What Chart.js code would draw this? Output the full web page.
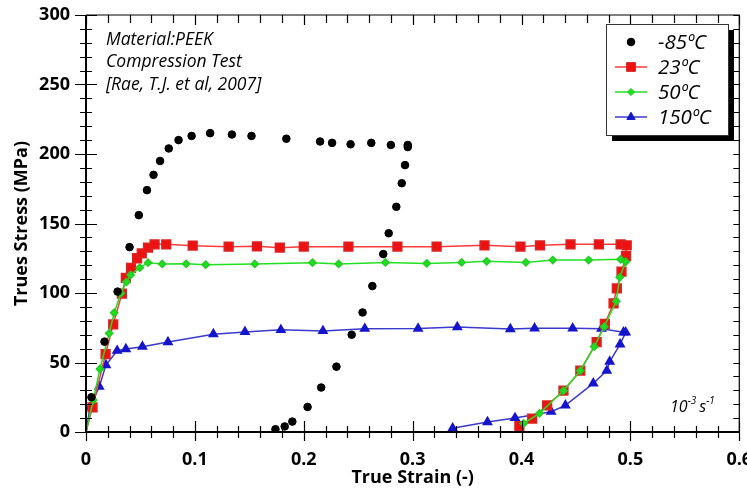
<!DOCTYPE html>
<html>
<head>
<meta charset="utf-8">
<script src="https://cdn.jsdelivr.net/npm/chart.js@4.4.0/dist/chart.umd.min.js"></script>
<style>
  html, body { margin: 0; padding: 0; background: #fff; }
  #wrap { width: 747px; height: 493px; position: relative; }
</style>
</head>
<body>
<div id="wrap"><canvas id="peekChart"></canvas></div>
<script>
// --------------------
// Data (strain -, stress MPa)
// --------------------
const seriesLabels = ["-85ºC", "23ºC", "50ºC", "150ºC"];

const strainM85 = [0.005, 0.017, 0.029, 0.040, 0.0485, 0.056, 0.062, 0.068, 0.076, 0.085, 0.097, 0.114, 0.134, 0.152, 0.184, 0.215, 0.226, 0.243, 0.262, 0.280, 0.2955, 0.2955, 0.293, 0.290, 0.285, 0.278, 0.273, 0.263, 0.254, 0.244, 0.230, 0.216, 0.2035, 0.1895, 0.1825, 0.174];
const stressM85 = [25, 65, 101, 133, 156, 174, 185, 195, 204, 210, 213, 215, 214, 213, 211, 209, 208, 207, 208, 206.5, 206.5, 205, 192, 179, 162, 143, 128, 105, 86, 70, 47, 32, 18, 7.5, 4, 2];

const strain23 = [0, 0.006, 0.018, 0.025, 0.033, 0.0366, 0.0414, 0.0469, 0.0512, 0.057, 0.063, 0.0737, 0.098, 0.131, 0.157, 0.178, 0.200, 0.241, 0.286, 0.322, 0.366, 0.399, 0.417, 0.445, 0.471, 0.491, 0.4966, 0.496, 0.4918, 0.4875, 0.4845, 0.4765, 0.469, 0.454, 0.4385, 0.4235, 0.4098, 0.398];
const stress23 = [0, 17.7, 56, 77.5, 99.5, 110.8, 118, 125, 128.5, 132.6, 135, 135, 134, 133.3, 133.6, 132.6, 133.3, 133.3, 133.3, 133.3, 134.3, 133.3, 134.3, 135, 135, 135, 134.3, 126.6, 115.3, 103.4, 92.6, 77.7, 64.7, 44.1, 29.7, 19.2, 9.6, 4.3];

const strain50 = [0, 0.0067, 0.0128, 0.0213, 0.0259, 0.032, 0.0372, 0.041, 0.0494, 0.057, 0.070, 0.092, 0.110, 0.155, 0.208, 0.232, 0.275, 0.313, 0.345, 0.368, 0.404, 0.4287, 0.4616, 0.491, 0.4957, 0.4902, 0.487, 0.476, 0.4668, 0.454, 0.4385, 0.4165, 0.402];
const stress50 = [0, 23, 45.3, 71, 85.8, 99.8, 108, 113, 118.2, 121.8, 120.9, 121, 120.4, 120.9, 121.8, 120.9, 122, 121.3, 122, 122.8, 122, 123.7, 123.7, 124.2, 122.5, 111.3, 94, 75.8, 61.4, 44.1, 29.7, 13.4, 6.2];

const strain150 = [0, 0.0037, 0.0122, 0.0183, 0.0286, 0.0366, 0.0518, 0.0753, 0.117, 0.146, 0.179, 0.2176, 0.256, 0.305, 0.341, 0.3897, 0.412, 0.447, 0.4735, 0.4936, 0.4957, 0.4905, 0.481, 0.4783, 0.4659, 0.4403, 0.4272, 0.394, 0.3687, 0.3367];
const stress150 = [0, 17.7, 32.6, 48.2, 58.5, 59.7, 61.4, 64.7, 70.4, 72, 73.5, 72.7, 74.3, 74.4, 75.5, 74.1, 74.6, 74.6, 74.3, 71.7, 71.7, 63.1, 50.6, 44.1, 35, 19.2, 14.6, 10.1, 7.2, 2.7];

const xTickValues = [0, 0.1, 0.2, 0.3, 0.4, 0.5, 0.6];
const yTickValues = [0, 50, 100, 150, 200, 250, 300];

const noteLines = ["Material:PEEK", "Compression Test", "[Rae, T.J. et al, 2007]"];

function toPoints(xs, ys) {
    return xs.map((x, i) => ({ x, y: ys[i] }));
}

// hide marker on the origin point of the line series
const hideOrigin = r => ctx => (ctx.dataIndex === 0 ? 0 : r);

// --------------------
// Decorations: frame, crossing ticks, notes, legend
// --------------------
const decorPlugin = {
    id: "decor",
    afterDraw(chart) {
        const ctx = chart.ctx;
        const { left, right, top, bottom } = chart.chartArea;
        const xs = chart.scales.x;
        const ys = chart.scales.y;
        ctx.save();
        ctx.strokeStyle = "#000";

        // frame
        ctx.lineWidth = 1.2;
        ctx.beginPath();
        ctx.moveTo(left, top); ctx.lineTo(right, top); ctx.lineTo(right, bottom);
        ctx.stroke();
        ctx.lineWidth = 2;
        ctx.beginPath();
        ctx.moveTo(left, top); ctx.lineTo(left, bottom); ctx.lineTo(right, bottom);
        ctx.stroke();

        // x ticks every 0.02
        ctx.lineWidth = 1.2;
        for (let i = 0; i <= 30; i++) {
            const px = Math.round(xs.getPixelForValue(i * 0.02)) + 0.5;
            const major = i % 5 === 0;
            ctx.beginPath();
            ctx.moveTo(px, bottom - (major ? 11 : 6));
            ctx.lineTo(px, bottom + (major ? 9 : 6));
            ctx.moveTo(px, top);
            ctx.lineTo(px, top + (major ? 10 : 8));
            ctx.stroke();
        }
        // y ticks every 10
        for (let i = 0; i <= 30; i++) {
            const py = Math.round(ys.getPixelForValue(i * 10)) + 0.5;
            const major = i % 5 === 0;
            ctx.beginPath();
            ctx.moveTo(left - (major ? 11 : 6), py);
            ctx.lineTo(left + (major ? 11 : 6), py);
            ctx.moveTo(right, py);
            ctx.lineTo(right - 6, py);
            ctx.stroke();
        }

        // notes
        ctx.fillStyle = "#000";
        ctx.font = "italic 17.5px 'Open Sans'";
        ctx.textBaseline = "middle";
        ctx.textAlign = "left";
        noteLines.forEach((t, i) => ctx.fillText(t, left + 20, top + 25 + i * 22.5));

        // strain-rate label 10^-3 s^-1
        let tx = 670;
        const ty = 407;
        ctx.font = "italic 16px 'Open Sans'";
        ctx.fillText("10", tx, ty);
        tx += ctx.measureText("10").width;
        ctx.font = "italic 10px 'Open Sans'";
        ctx.fillText("-3", tx, ty - 6);
        tx += ctx.measureText("-3").width + 3;
        ctx.font = "italic 16px 'Open Sans'";
        ctx.fillText("s", tx, ty);
        tx += ctx.measureText("s").width;
        ctx.font = "italic 10px 'Open Sans'";
        ctx.fillText("-1", tx, ty - 6);

        // legend box with shadow
        const lx = 606, ly = 24, lw = 122, lh = 111;
        ctx.fillStyle = "#000";
        ctx.fillRect(lx + 6, ly + 6, lw, lh);
        ctx.fillStyle = "#fff";
        ctx.fillRect(lx, ly, lw, lh);
        ctx.lineWidth = 1;
        ctx.strokeStyle = "#333";
        ctx.strokeRect(lx + 0.5, ly + 0.5, lw, lh);

        chart.data.datasets.forEach((ds, i) => {
            const cy = ly + 18 + i * 25;
            const cx = lx + 25;
            if (ds.showLine !== false) {
                ctx.strokeStyle = ds.borderColor;
                ctx.lineWidth = ds.borderWidth;
                ctx.beginPath();
                ctx.moveTo(cx - 16, cy);
                ctx.lineTo(cx + 16, cy);
                ctx.stroke();
            }
            ctx.fillStyle = ds.pointBackgroundColor;
            ctx.strokeStyle = ds.pointBorderColor;
            ctx.lineWidth = 1;
            Chart.helpers.drawPoint(ctx, {
                pointStyle: ds.pointStyle,
                radius: ds.legendRadius,
                rotation: 0,
                borderWidth: 1
            }, cx, cy);
            ctx.fillStyle = "#000";
            ctx.font = "italic 20.5px 'Open Sans'";
            ctx.textAlign = "left";
            ctx.fillText(ds.label, lx + 52, cy + 1);
        });
        ctx.restore();
    }
};

// --------------------
// Chart
// --------------------
const tickFont = { family: "'Open Sans'", size: 18, weight: "bold" };

new Chart(document.getElementById("peekChart"), {
    type: "scatter",
    data: {
        datasets: [
            {
                label: seriesLabels[0],
                data: toPoints(strainM85, stressM85),
                showLine: false,
                pointStyle: "circle",
                pointRadius: 3.8,
                legendRadius: 3.8,
                pointBackgroundColor: "#000",
                pointBorderColor: "#000",
                borderColor: "#000",
                order: 0
            },
            {
                label: seriesLabels[1],
                data: toPoints(strain23, stress23),
                showLine: true,
                borderColor: "#ff3b3b",
                borderWidth: 1.5,
                pointStyle: "rect",
                pointRadius: hideOrigin(6.2),
                legendRadius: 6.2,
                pointBackgroundColor: "#ee1111",
                pointBorderColor: "#dd2222",
                order: 2
            },
            {
                label: seriesLabels[2],
                data: toPoints(strain50, stress50),
                showLine: true,
                borderColor: "#22e022",
                borderWidth: 1.5,
                pointStyle: "rectRot",
                pointRadius: hideOrigin(3.6),
                legendRadius: 3.6,
                pointBackgroundColor: "#22dd22",
                pointBorderColor: "#22cc22",
                order: 1
            },
            {
                label: seriesLabels[3],
                data: toPoints(strain150, stress150),
                showLine: true,
                borderColor: "#3a3acc",
                borderWidth: 1.5,
                pointStyle: "triangle",
                pointRadius: hideOrigin(4.8),
                legendRadius: 4.8,
                pointBackgroundColor: "#1515cc",
                pointBorderColor: "#1515cc",
                order: 3
            }
        ]
    },
    options: {
        responsive: true,
        maintainAspectRatio: false,
        animation: false,
        layout: { padding: { left: 0, right: 1, top: 15, bottom: 0 } },
        plugins: {
            legend: { display: false },
            tooltip: { enabled: false }
        },
        scales: {
            x: {
                type: "linear",
                min: 0,
                max: 0.6,
                grid: { display: false, drawTicks: false },
                border: { display: false },
                afterBuildTicks: s => { s.ticks = xTickValues.map(v => ({ value: v })); },
                afterFit: s => { s.height = 61; s.paddingLeft = 0; s.paddingRight = 0; },
                ticks: {
                    color: "#000",
                    font: tickFont,
                    padding: 17,
                    maxRotation: 0,
                    callback: v => String(Math.round(v * 10) / 10)
                },
                title: {
                    display: true,
                    text: "True Strain (-)",
                    color: "#000",
                    font: { family: "'Open Sans'", size: 18, weight: "bold" },
                    padding: { top: 0, bottom: 4 }
                }
            },
            y: {
                type: "linear",
                min: 0,
                max: 300,
                grid: { display: false, drawTicks: false },
                border: { display: false },
                afterBuildTicks: s => { s.ticks = yTickValues.map(v => ({ value: v })); },
                afterFit: s => { s.width = 86; s.paddingTop = 0; s.paddingBottom = 0; },
                ticks: {
                    color: "#000",
                    font: tickFont,
                    padding: 16
                },
                title: {
                    display: true,
                    text: "Trues Stress (MPa)",
                    color: "#000",
                    font: { family: "'Open Sans'", size: 18, weight: "bold" },
                    padding: { top: 11, bottom: 0 }
                }
            }
        }
    },
    plugins: [decorPlugin]
});
</script>
</body>
</html>
